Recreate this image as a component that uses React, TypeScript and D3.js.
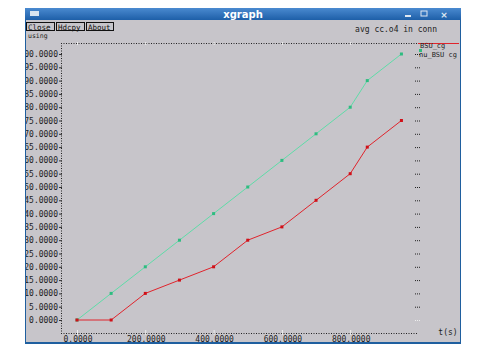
import React from "react";
import * as d3 from "d3";

const xTicks = [0, 200, 400, 600, 800];
const yTicks = [0, 5, 10, 15, 20, 25, 30, 35, 40, 45, 50, 55, 60, 65, 70, 75, 80, 85, 90, 95, 100];
const redX = [0, 100, 200, 300, 400, 500, 600, 700, 800, 850, 950];
const redY = [0, 0, 10, 15, 20, 30, 35, 45, 55, 65, 75];
const greenX = [0, 100, 200, 300, 400, 500, 600, 700, 800, 850, 950];
const greenY = [0, 10, 20, 30, 40, 50, 60, 70, 80, 90, 100];
const seriesNames = ["BSU_cg", "nu_BSU cg"];
const titleText = "xgraph";
const plotTitle = "avg cc.o4 in conn";
const xUnit = "t(s)";
const yUnit = "using";

export default function App() {
  const W = 486, H = 359;
  const x = d3.scaleLinear().domain([0, 1000]).range([77, 418.5]);
  const y = d3.scaleLinear().domain([0, 100]).range([320, 54]);
  const line = d3.line<[number, number]>().x(d => x(d[0])).y(d => y(d[1]));
  const red: [number, number][] = redX.map((v, i) => [v, redY[i]]);
  const green: [number, number][] = greenX.map((v, i) => [v, greenY[i]]);
  const font = "DejaVu Sans Mono, monospace";
  const bg = "#c7c5ca";
  return (
    <svg width={W} height={H} style={{ position: "absolute", left: 0, top: 0 }} fontFamily={font}>
      <defs>
        <linearGradient id="tb" x1="0" y1="0" x2="0" y2="1">
          <stop offset="0" stopColor="#4a8ad0" />
          <stop offset="1" stopColor="#1e5fa8" />
        </linearGradient>
        <clipPath id="win"><rect x={26} y={8} width={434} height={335} /></clipPath>
      </defs>
      <rect x={0} y={0} width={W} height={H} fill="#ffffff" />
      {/* window */}
      <rect x={25} y={8} width={436} height={336} fill="#1f5f9f" />
      <rect x={26} y={19} width={434} height={323} fill={bg} />
      <rect x={25} y={8} width={436} height={12} fill="url(#tb)" />
      <rect x={30} y={11} width={9} height={5} fill="#d8e4f0" />
      <text x={243} y={18} textAnchor="middle" fontSize={10} fontWeight="bold" fill="#ffffff" fontFamily="DejaVu Sans, sans-serif">{titleText}</text>
      <rect x={405} y={15} width={6} height={2} fill="#dfe8f2" />
      <rect x={421} y={11} width={6} height={5} fill="none" stroke="#dfe8f2" strokeWidth={1} />
      <text x={444} y={18} textAnchor="middle" fontSize={9} fontWeight="bold" fill="#dfe8f2" fontFamily="DejaVu Sans, sans-serif">×</text>
      {/* buttons */}
      {[["Close", 26, 28], ["Hdcpy", 56, 28], ["About", 86, 27]].map(([t, bx, bw]) => (
        <g key={t as string}>
          <rect x={(bx as number) + 0.5} y={22.5} width={bw as number} height={8} fill="none" stroke="#111" strokeWidth={1} />
          <text x={(bx as number) + 2} y={29.5} fontSize={7.5} fill="#111">{t}</text>
        </g>
      ))}
      <text x={28} y={37.5} fontSize={6.5} fill="#222">{yUnit}</text>
      <text x={437} y={32} textAnchor="end" fontSize={8} fill="#222">{plotTitle}</text>
      <g clipPath="url(#win)">
        {/* axes */}
        <line x1={61} y1={43.5} x2={418} y2={43.5} stroke="#222" strokeDasharray="1,1.5" />
        <line x1={61} y1={333.5} x2={418} y2={333.5} stroke="#222" strokeDasharray="1,1.5" />
        <line x1={61.5} y1={43} x2={61.5} y2={333} stroke="#222" strokeDasharray="1,1.5" />
        {yTicks.map(t => (
          <g key={"y" + t}>
            <text x={58} y={y(t) + 3} textAnchor="end" fontSize={8} fill="#222">{t.toFixed(4)}</text>
            <line x1={59} x2={62} y1={y(t) + 0.5} y2={y(t) + 0.5} stroke="#333" />
            <line x1={415} x2={421} y1={y(t) + 0.5} y2={y(t) + 0.5} stroke={t === 0 ? "#eee" : "#222"} strokeDasharray="1,1" />
          </g>
        ))}
        {xTicks.map(t => (
          <g key={"x" + t}>
            <text x={x(t) + 1} y={342} textAnchor="middle" fontSize={8} fill="#222">{t.toFixed(4)}</text>
            <line x1={x(t) + 0.5} x2={x(t) + 0.5} y1={330} y2={335} stroke="#eee" />
            <line x1={x(t) + 0.5} x2={x(t) + 0.5} y1={42} y2={45} stroke="#eee" />
          </g>
        ))}
        <text x={448} y={335} textAnchor="middle" fontSize={8} fill="#222">{xUnit}</text>
        {/* series */}
        <path d={line(green) || ""} fill="none" stroke="#5fdca8" strokeWidth={1} />
        <path d={line(red) || ""} fill="none" stroke="#e0242c" strokeWidth={1} />
        {green.map((d, i) => (
          <rect key={"g" + i} x={x(d[0]) - 1.5} y={y(d[1]) - 1.5} width={3} height={3} fill="#2ebc80" />
        ))}
        {red.map((d, i) => (
          <rect key={"r" + i} x={x(d[0]) - 1.5} y={y(d[1]) - 1.5} width={3} height={3} fill="#d01018" />
        ))}
        {/* legend */}
        <line x1={418} x2={459} y1={43.5} y2={43.5} stroke="#e0242c" strokeWidth={1} />
        <text x={420} y={48} fontSize={7} fill="#222">{seriesNames[0]}</text>
        <rect x={419} y={49} width={3} height={3} fill="#2ebc80" />
        <text x={419} y={57} fontSize={7} fill="#222">{seriesNames[1]}</text>
      </g>
    </svg>
  );
}
